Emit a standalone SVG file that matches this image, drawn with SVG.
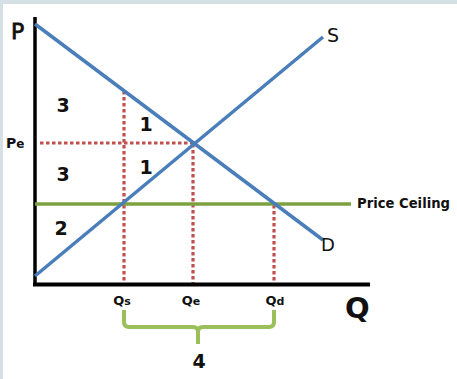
<svg xmlns="http://www.w3.org/2000/svg" width="457" height="379" viewBox="0 0 457 379">
<style>
.lbl{font-family:"DejaVu Sans","Liberation Sans",sans-serif;fill:#111;}
.b{font-weight:bold;}
.dot{stroke:#c0504d;stroke-width:3.2;stroke-dasharray:3.5 2.5;fill:none;}
.curve{stroke:#4a7ebb;stroke-width:3.5;fill:none;}
.axis{stroke:#000;fill:none;}
</style>
<rect x="0" y="0" width="457" height="379" fill="#ffffff"/>
<rect x="0" y="0" width="457" height="4" fill="#d5e0e5"/>
<rect x="0" y="0" width="3" height="379" fill="#d5e0e5"/>
<g id="guides">
<line class="dot" x1="124" y1="91" x2="124" y2="283"/>
<line class="dot" x1="193" y1="144" x2="193" y2="283"/>
<line class="dot" x1="274" y1="205" x2="274" y2="283"/>
<line class="dot" x1="40" y1="143" x2="192" y2="143"/>
</g>
<g id="axes">
<line class="axis" x1="35" y1="17" x2="35" y2="286" stroke-width="3.5"/>
<line class="axis" x1="33" y1="284.5" x2="370" y2="284.5" stroke-width="4"/>
</g>
<g id="ceiling">
<line x1="35" y1="204" x2="351" y2="204" stroke="#7ba23f" stroke-width="3.5"/>
<text class="lbl b" x="357" y="208" font-size="14" textLength="93" lengthAdjust="spacingAndGlyphs">Price Ceiling</text>
</g>
<g id="demand">
<line class="curve" x1="35" y1="24" x2="323" y2="240"/>
<text class="lbl" x="321" y="251" font-size="18">D</text>
</g>
<g id="supply">
<line class="curve" x1="35" y1="276" x2="323" y2="37"/>
<text class="lbl" x="327" y="42" font-size="19">S</text>
</g>
<g id="bracket">
<path d="M124,310 V322 Q124,327 129,327 H193 Q198,327 198,332 V344 M198,332 Q198,327 203,327 H269 Q274,327 274,322 V310" stroke="#9bbf5a" stroke-width="4" fill="none"/>
<text class="lbl b" x="199" y="368" font-size="19" text-anchor="middle">4</text>
</g>
<g id="labels">
<text class="lbl" x="11" y="39" font-size="22" stroke="#111" stroke-width="0.8">P</text>
<text class="lbl b" x="6" y="148" font-size="14">P<tspan font-size="12">e</tspan></text>
<text class="lbl b" x="345" y="318" font-size="29">Q</text>
<text class="lbl b" x="122" y="305" font-size="13" text-anchor="middle">Q<tspan font-size="11">s</tspan></text>
<text class="lbl b" x="191" y="305" font-size="13" text-anchor="middle">Q<tspan font-size="11">e</tspan></text>
<text class="lbl b" x="275" y="305" font-size="13" text-anchor="middle">Q<tspan font-size="11">d</tspan></text>
<text class="lbl b" x="63" y="112" font-size="19" text-anchor="middle">3</text>
<text class="lbl b" x="146" y="131" font-size="19" text-anchor="middle">1</text>
<text class="lbl b" x="63" y="181" font-size="19" text-anchor="middle">3</text>
<text class="lbl b" x="146" y="174" font-size="19" text-anchor="middle">1</text>
<text class="lbl b" x="61" y="235" font-size="19" text-anchor="middle">2</text>
</g>
</svg>
